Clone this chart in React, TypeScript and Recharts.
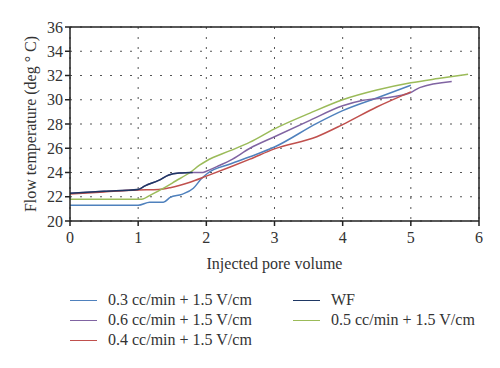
import { LineChart, Line, XAxis, YAxis, CartesianGrid, ReferenceLine } from 'recharts';

// injected pore volume (x) and flow temperature (y) per run
const pv03 = [0, 1.0, 1.17, 1.37, 1.47, 1.64, 1.81, 1.93, 2.01, 2.35, 2.64, 3.0, 3.62, 4.0, 4.5, 5.0];
const temp03 = [21.3, 21.3, 21.55, 21.55, 21.95, 22.2, 22.7, 23.5, 23.9, 24.7, 25.3, 26.1, 28.05, 29.1, 30.15, 31.2];

const pv06 = [0, 0.5, 1.0, 1.1, 1.3, 1.45, 1.6, 1.8, 1.95, 2.0, 2.2, 2.35, 2.64, 3.0, 3.52, 4.0, 4.3, 4.74, 5.0, 5.13, 5.6];
const temp06 = [22.28, 22.45, 22.6, 22.9, 23.35, 23.8, 23.95, 24.0, 24.0, 24.1, 24.6, 25.0, 26.0, 26.95, 28.3, 29.5, 29.95, 30.25, 30.6, 31.0, 31.5];

const pv04 = [0, 0.5, 1.0, 1.3, 1.47, 1.76, 2.0, 2.35, 2.64, 3.0, 3.62, 4.0, 4.5, 5.0];
const temp04 = [22.22, 22.4, 22.55, 22.6, 22.75, 23.2, 23.7, 24.45, 25.1, 25.95, 26.95, 27.95, 29.4, 30.65];

const pvWF = [0, 0.5, 1.0, 1.1, 1.3, 1.45, 1.6, 1.8];
const tempWF = [22.28, 22.45, 22.6, 22.9, 23.35, 23.8, 23.95, 24.0];

const pv05 = [0, 1.05, 1.2, 1.4, 1.55, 1.76, 1.9, 2.0, 2.35, 2.64, 3.0, 3.52, 4.0, 4.5, 5.0, 5.4, 5.84];
const temp05 = [21.8, 21.8, 22.2, 22.8, 23.3, 24.0, 24.6, 24.95, 25.8, 26.5, 27.6, 28.9, 30.0, 30.8, 31.4, 31.75, 32.1];

const xTicks = [0, 1, 2, 3, 4, 5, 6];
const yTicks = [20, 22, 24, 26, 28, 30, 32, 34, 36];

const toPoints = (xs: number[], ys: number[]) => xs.map((x, i) => ({ x, y: ys[i] }));

const series = [
  { name: '0.3 cc/min + 1.5 V/cm', color: '#4f81bd', data: toPoints(pv03, temp03) },
  { name: '0.6 cc/min + 1.5 V/cm', color: '#8064a2', data: toPoints(pv06, temp06) },
  { name: '0.4 cc/min + 1.5 V/cm', color: '#c0504d', data: toPoints(pv04, temp04) },
  { name: '0.5 cc/min + 1.5 V/cm', color: '#9bbb59', data: toPoints(pv05, temp05) },
  { name: 'WF', color: '#1f3864', data: toPoints(pvWF, tempWF) },
];

// legend columns as laid out in the figure
const legendCols = [
  ['0.3 cc/min + 1.5 V/cm', '0.6 cc/min + 1.5 V/cm', '0.4 cc/min + 1.5 V/cm'],
  ['WF', '0.5 cc/min + 1.5 V/cm'],
];

const font = '"Liberation Serif", "Times New Roman", serif';

function YTitle() {
  return (
    <text
      x={36}
      y={124}
      transform="rotate(-90 36 124)"
      textAnchor="middle"
      fontFamily={font}
      fontSize={16}
      fill="#333"
    >
      Flow temperature (deg ° C)
    </text>
  );
}

export default function App() {
  const colorOf = (n: string) => series.find(s => s.name === n)!.color;
  return (
    <div style={{ position: 'absolute', left: 0, top: 0, width: 500, height: 368, background: '#fff' }}>
      <LineChart width={500} height={368} margin={{ top: 27, right: 21, left: 0, bottom: 97 }}>
        <CartesianGrid stroke="#555" strokeDasharray="2 8" horizontalValues={yTicks} verticalValues={xTicks} />
        <XAxis
          type="number"
          dataKey="x"
          domain={[0, 6]}
          ticks={xTicks}
          allowDataOverflow
          height={50}
          tickSize={5}
          tickMargin={6}
          stroke="#222"
          strokeWidth={1.5}
          tick={{ fill: '#333', fontSize: 16, fontFamily: font }}
          label={{ value: 'Injected pore volume', position: 'insideBottom', offset: 2, fill: '#333', fontSize: 16, fontFamily: font }}
        />
        <YAxis
          type="number"
          dataKey="y"
          domain={[20, 36]}
          ticks={yTicks}
          allowDataOverflow
          width={70}
          tickSize={5}
          tickMargin={2}
          stroke="#222"
          strokeWidth={1.5}
          tick={{ fill: '#333', fontSize: 16, fontFamily: font }}
          label={<YTitle />}
        />
        <ReferenceLine y={36} stroke="#222" strokeWidth={1.5} />
        <ReferenceLine x={6} stroke="#222" strokeWidth={1.5} />
        {series.map(s => (
          <Line
            key={s.name}
            data={s.data}
            dataKey="y"
            name={s.name}
            type="monotone"
            stroke={s.color}
            strokeWidth={1.5}
            dot={false}
            isAnimationActive={false}
          />
        ))}
      </LineChart>
      {legendCols.map((col, ci) =>
        col.map((name, ri) => (
          <div
            key={name}
            style={{
              position: 'absolute',
              left: ci === 0 ? 70 : 293,
              top: 290 + ri * 20,
              height: 20,
              lineHeight: '20px',
              fontFamily: font,
              fontSize: 16,
              color: '#333',
              whiteSpace: 'nowrap',
              display: 'flex',
              alignItems: 'center',
            }}
          >
            <span style={{ display: 'inline-block', width: 27, height: 0, borderTop: `1.5px solid ${colorOf(name)}`, marginRight: 11 }} />
            <span>{name}</span>
          </div>
        ))
      )}
    </div>
  );
}
